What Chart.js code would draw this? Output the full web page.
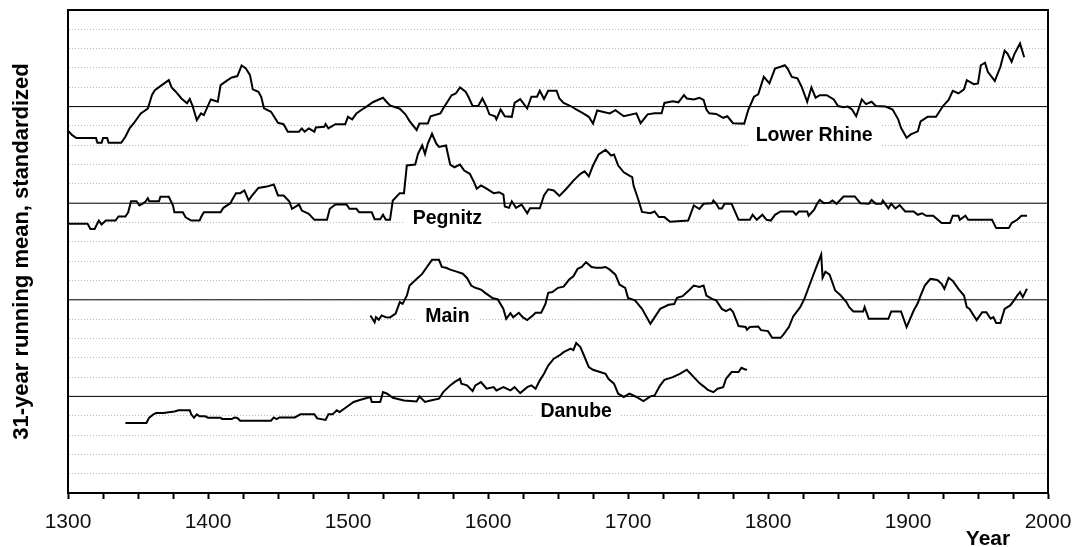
<!DOCTYPE html>
<html>
<head>
<meta charset="utf-8">
<script src="https://cdn.jsdelivr.net/npm/chart.js@4.4.0/dist/chart.umd.min.js"></script>
<style>
  html, body { margin: 0; padding: 0; background: #fff; }
  #wrap { width: 1075px; height: 547px; }
</style>
</head>
<body>
<div id="wrap"><canvas id="chart" width="1075" height="547"></canvas></div>
<script>
// 31-year running means, standardized; [year, value] in grid units around each river's own zero line
const lowerRhine = [
    [1300,-1.25],[1303,-1.48],[1306,-1.63],[1320,-1.63],[1321,-1.87],[1324,-1.87],[1325,-1.63],[1328,-1.63],
    [1329,-1.87],[1338,-1.87],[1341,-1.56],[1344,-1.12],[1347,-0.86],[1352,-0.35],[1357,-0.10],[1360,0.60],
    [1362,0.85],[1368,1.16],[1372,1.37],[1374,0.99],[1377,0.77],[1381,0.42],[1385,0.17],[1387,0.40],
    [1389,0.03],[1392,-0.70],[1395,-0.35],[1397,-0.44],[1402,0.37],[1407,0.25],[1409,1.11],[1414,1.37],
    [1417,1.51],[1421,1.58],[1424,2.13],[1427,1.98],[1430,1.63],[1432,0.89],[1436,0.77],[1438,0.51],
    [1440,-0.09],[1445,-0.27],[1450,-0.84],[1454,-0.91],[1457,-1.30],[1465,-1.30],[1467,-1.13],[1469,-1.30],
    [1472,-1.13],[1476,-1.30],[1477,-1.08],[1483,-1.04],[1484,-0.90],[1486,-1.13],[1491,-0.91],[1498,-0.91],
    [1500,-0.53],[1503,-0.66],[1506,-0.35],[1510,-0.15],[1513,-0.01],[1518,0.24],[1525,0.46],[1527,0.29],
    [1530,0.06],[1537,-0.11],[1541,-0.40],[1544,-0.75],[1549,-1.21],[1551,-0.88],[1557,-0.88],[1559,-0.50],
    [1566,-0.35],[1568,-0.10],[1574,0.59],[1577,0.68],[1580,0.99],[1584,0.77],[1586,0.51],[1589,0.03],
    [1593,0.03],[1596,0.42],[1599,-0.01],[1601,-0.40],[1605,-0.50],[1606,-0.66],[1609,-0.15],[1612,-0.50],
    [1617,-0.53],[1619,0.19],[1623,0.39],[1625,0.19],[1628,-0.10],[1631,0.51],[1635,0.51],[1637,0.82],
    [1640,0.39],[1643,0.82],[1649,0.82],[1651,0.42],[1654,0.19],[1659,0.03],[1663,-0.15],[1668,-0.35],
    [1672,-0.53],[1675,-0.88],[1678,-0.20],[1687,-0.35],[1691,-0.18],[1697,-0.50],[1706,-0.35],[1709,-0.86],
    [1714,-0.40],[1719,-0.35],[1724,-0.35],[1726,0.19],[1732,0.27],[1736,0.22],[1740,0.59],[1742,0.42],
    [1747,0.37],[1751,0.46],[1754,0.34],[1756,-0.15],[1758,-0.35],[1763,-0.38],[1768,-0.58],[1771,-0.50],
    [1775,-0.86],[1783,-0.88],[1786,-0.15],[1790,0.51],[1793,0.64],[1797,1.54],[1801,1.20],[1805,1.97],
    [1809,2.06],[1812,2.14],[1814,1.97],[1817,1.54],[1821,1.46],[1824,1.03],[1828,0.25],[1831,0.99],
    [1834,0.46],[1837,0.59],[1842,0.59],[1847,0.37],[1850,0.03],[1854,-0.03],[1857,0.00],[1860,-0.15],
    [1863,-0.50],[1867,0.37],[1870,0.13],[1874,0.25],[1877,0.03],[1884,0.00],[1889,-0.15],[1893,-0.66],
    [1895,-1.10],[1899,-1.61],[1902,-1.44],[1907,-1.28],[1909,-0.76],[1914,-0.53],[1920,-0.53],[1925,0.03],
    [1929,0.34],[1932,0.82],[1936,0.68],[1940,0.89],[1942,1.37],[1947,1.16],[1950,1.20],[1952,2.14],
    [1955,2.27],[1957,1.80],[1962,1.33],[1966,2.06],[1969,2.89],[1971,2.75],[1974,2.32],[1976,2.72],
    [1980,3.27],[1983,2.55]
];

const pegnitz = [
    [1300,-1.07],[1314,-1.07],[1316,-1.33],[1319,-1.33],[1322,-0.90],[1324,-1.10],[1327,-0.90],[1334,-0.90],
    [1336,-0.69],[1341,-0.69],[1343,-0.47],[1345,0.10],[1349,0.10],[1351,-0.12],[1355,0.05],[1357,0.26],
    [1358,0.10],[1365,0.10],[1366,0.33],[1372,0.33],[1375,-0.12],[1376,-0.47],[1382,-0.47],[1384,-0.73],
    [1388,-0.90],[1394,-0.90],[1395,-0.73],[1397,-0.47],[1409,-0.47],[1411,-0.24],[1416,0.00],[1417,0.14],
    [1420,0.52],[1423,0.52],[1426,0.66],[1429,0.14],[1431,0.35],[1436,0.79],[1442,0.86],[1447,0.97],
    [1450,0.40],[1454,0.40],[1458,0.10],[1460,-0.29],[1465,-0.07],[1467,-0.38],[1472,-0.55],[1476,-0.86],
    [1485,-0.86],[1487,-0.29],[1491,-0.07],[1499,-0.07],[1501,-0.29],[1506,-0.29],[1508,-0.47],[1517,-0.47],
    [1519,-0.83],[1523,-0.83],[1525,-0.60],[1527,-0.86],[1530,-0.86],[1532,0.14],[1537,0.52],[1540,0.52],
    [1542,1.95],[1548,2.00],[1550,2.56],[1553,2.99],[1555,2.55],[1557,3.09],[1560,3.59],[1563,3.09],
    [1565,2.91],[1570,2.99],[1573,2.00],[1576,1.86],[1580,2.00],[1583,1.69],[1587,1.52],[1590,1.09],
    [1592,0.75],[1595,0.92],[1599,0.75],[1604,0.52],[1608,0.57],[1611,0.45],[1612,-0.17],[1615,-0.24],
    [1617,0.10],[1620,-0.24],[1624,-0.07],[1628,-0.52],[1630,-0.26],[1637,-0.26],[1640,0.40],[1643,0.72],
    [1647,0.66],[1651,0.38],[1656,0.75],[1661,1.17],[1666,1.52],[1669,1.65],[1672,1.39],[1675,1.95],
    [1679,2.52],[1684,2.76],[1688,2.47],[1690,2.52],[1693,1.95],[1697,1.60],[1701,1.43],[1703,1.35],
    [1704,0.90],[1707,0.27],[1710,-0.45],[1716,-0.52],[1719,-0.43],[1722,-0.72],[1726,-0.72],[1730,-0.96],
    [1743,-0.90],[1747,-0.12],[1751,-0.30],[1754,-0.03],[1760,0.00],[1761,0.14],[1763,-0.03],[1765,-0.27],
    [1767,-0.27],[1769,-0.03],[1774,-0.03],[1779,-0.86],[1787,-0.86],[1789,-0.60],[1792,-0.86],[1796,-0.60],
    [1799,-0.86],[1802,-0.90],[1805,-0.60],[1809,-0.43],[1818,-0.43],[1820,-0.60],[1822,-0.43],[1828,-0.43],
    [1829,-0.65],[1833,-0.34],[1835,-0.03],[1837,0.17],[1840,0.00],[1844,0.03],[1846,0.14],[1849,-0.03],
    [1854,0.35],[1862,0.35],[1866,0.00],[1872,-0.03],[1874,0.17],[1877,-0.03],[1881,-0.03],[1882,0.14],
    [1886,-0.27],[1888,-0.03],[1891,-0.27],[1894,-0.10],[1898,-0.43],[1904,-0.43],[1907,-0.60],[1910,-0.52],
    [1913,-0.65],[1918,-0.65],[1924,-1.03],[1930,-1.03],[1932,-0.65],[1936,-0.65],[1937,-0.86],[1941,-0.65],
    [1943,-0.86],[1960,-0.86],[1963,-1.29],[1972,-1.29],[1974,-1.03],[1978,-0.86],[1981,-0.65],[1985,-0.65]
];

const main = [
    [1516,-0.81],[1519,-1.16],[1520,-0.90],[1522,-1.03],[1524,-0.81],[1527,-0.90],[1530,-0.91],[1534,-0.72],
    [1537,-0.12],[1539,-0.21],[1542,0.21],[1544,0.74],[1549,1.08],[1553,1.34],[1556,1.66],[1560,2.07],
    [1565,2.07],[1567,1.70],[1570,1.66],[1573,1.56],[1577,1.47],[1582,1.35],[1585,1.13],[1588,0.74],
    [1591,0.62],[1595,0.53],[1598,0.36],[1603,0.10],[1607,0.02],[1611,-0.47],[1613,-0.98],[1616,-0.69],
    [1618,-0.90],[1622,-0.67],[1625,-0.91],[1628,-1.05],[1632,-0.81],[1634,-0.67],[1638,-0.67],[1641,-0.22],
    [1643,0.36],[1646,0.40],[1650,0.62],[1654,0.68],[1658,1.05],[1661,1.22],[1664,1.60],[1667,1.70],
    [1670,1.95],[1674,1.70],[1677,1.66],[1681,1.66],[1684,1.70],[1687,1.56],[1691,1.30],[1694,0.78],
    [1698,0.62],[1700,0.10],[1705,-0.03],[1710,-0.47],[1716,-1.24],[1719,-0.91],[1723,-0.47],[1729,-0.26],
    [1733,-0.22],[1735,0.10],[1739,0.19],[1743,0.45],[1747,0.74],[1751,0.66],[1754,0.74],[1756,0.22],
    [1760,0.05],[1763,-0.03],[1767,-0.47],[1770,-0.59],[1773,-0.47],[1775,-0.62],[1779,-1.36],[1784,-1.41],
    [1785,-1.55],[1787,-1.41],[1793,-1.38],[1795,-1.57],[1800,-1.62],[1803,-1.97],[1809,-1.97],[1811,-1.80],
    [1815,-1.40],[1818,-0.86],[1823,-0.38],[1826,0.05],[1830,0.83],[1834,1.60],[1838,2.34],[1839,1.14],
    [1841,1.45],[1844,1.30],[1848,0.48],[1852,0.22],[1856,-0.12],[1858,-0.38],[1861,-0.60],[1868,-0.60],
    [1869,-0.38],[1872,-0.98],[1886,-0.98],[1888,-0.60],[1895,-0.60],[1899,-1.41],[1904,-0.57],[1907,-0.17],
    [1909,0.22],[1912,0.74],[1916,1.08],[1921,1.03],[1924,0.83],[1926,0.57],[1929,1.14],[1932,0.98],
    [1936,0.57],[1940,0.22],[1942,-0.38],[1944,-0.47],[1949,-1.05],[1953,-0.64],[1956,-0.64],[1959,-0.98],
    [1961,-0.90],[1963,-1.20],[1966,-1.20],[1969,-0.47],[1973,-0.29],[1976,0.00],[1978,0.22],[1980,0.40],
    [1982,0.14],[1985,0.57]
];

const danube = [
    [1341,-1.38],[1356,-1.38],[1358,-1.10],[1361,-0.93],[1363,-0.86],[1368,-0.86],[1376,-0.78],[1379,-0.72],
    [1387,-0.72],[1388,-0.93],[1390,-1.10],[1392,-0.93],[1394,-1.03],[1398,-1.03],[1400,-1.10],[1409,-1.10],
    [1410,-1.17],[1417,-1.17],[1419,-1.09],[1421,-1.12],[1423,-1.26],[1445,-1.26],[1447,-1.09],[1449,-1.17],
    [1451,-1.09],[1462,-1.09],[1466,-0.93],[1476,-0.93],[1478,-1.14],[1484,-1.22],[1486,-0.93],[1489,-0.93],
    [1492,-0.72],[1494,-0.81],[1499,-0.55],[1504,-0.29],[1509,-0.17],[1516,-0.03],[1517,-0.29],[1523,-0.29],
    [1525,0.22],[1528,0.14],[1532,-0.07],[1540,-0.21],[1549,-0.26],[1551,0.00],[1555,-0.29],[1559,-0.21],
    [1565,-0.12],[1568,0.22],[1573,0.57],[1576,0.74],[1580,0.91],[1581,0.66],[1585,0.57],[1589,0.28],
    [1591,0.57],[1595,0.74],[1599,0.40],[1604,0.48],[1606,0.31],[1611,0.48],[1616,0.31],[1619,0.48],
    [1623,0.17],[1628,0.48],[1631,0.57],[1634,0.40],[1637,0.83],[1640,1.17],[1643,1.60],[1647,1.95],
    [1651,2.12],[1654,2.29],[1659,2.47],[1661,2.40],[1663,2.76],[1666,2.55],[1669,2.04],[1672,1.52],
    [1675,1.38],[1680,1.26],[1684,1.17],[1686,0.91],[1690,0.66],[1693,0.14],[1697,-0.03],[1701,0.14],
    [1706,-0.03],[1711,-0.24],[1716,0.00],[1719,0.05],[1723,0.57],[1726,0.86],[1732,1.00],[1737,1.17],
    [1742,1.38],[1747,1.00],[1751,0.69],[1754,0.52],[1757,0.34],[1761,0.22],[1764,0.40],[1768,0.48],
    [1770,0.91],[1774,1.26],[1779,1.26],[1781,1.48],[1784,1.38],[1785,1.40]
];

const riverNames = ["Lower Rhine", "Pegnitz", "Main", "Danube"];
const riverSeries = [lowerRhine, pegnitz, main, danube];
const riverOffsets = [20, 15, 10, 5];          // each river stacked on its own zero line
const labelYears = [1833, 1571, 1571, 1663];
const labelLevels = [18.48, 14.18, 9.11, 4.19];

const yearMin = 1300;
const yearMax = 2000;
const levelMin = 0;
const levelMax = 25;
const yTitle = "31-year running mean, standardized";
const xTitle = "Year";

const FONT = "'Liberation Sans', Arial, Helvetica, sans-serif";

const datasets = [];
riverSeries.forEach((series, i) => {
    datasets.push({
        label: riverNames[i],
        data: series.map(p => ({ x: p[0], y: p[1] + riverOffsets[i] })),
        borderColor: "#000",
        borderWidth: 2,
        pointRadius: 0,
        tension: 0,
        order: 1
    });
});
riverOffsets.forEach((off, i) => {
    datasets.push({
        label: riverNames[i] + " zero",
        data: [{ x: yearMin, y: off }, { x: yearMax, y: off }],
        borderColor: "#000",
        borderWidth: 1,
        pointRadius: 0,
        order: 2
    });
});

const riverLabels = {
    id: "riverLabels",
    beforeDatasetsDraw(chart) {
        const { ctx, scales: { x, y } } = chart;
        ctx.save();
        ctx.font = "bold 19.5px " + FONT;
        ctx.textAlign = "center";
        ctx.textBaseline = "middle";
        riverNames.forEach((name, i) => {
            const px = x.getPixelForValue(labelYears[i]);
            const py = y.getPixelForValue(labelLevels[i]);
            const w = ctx.measureText(name).width + 16;
            ctx.fillStyle = "#fff";
            ctx.fillRect(px - w / 2, py - 11, w, 22);
            ctx.fillStyle = "#000";
            ctx.fillText(name, px, py);
        });
        ctx.restore();
    },
    afterDraw(chart) {
        const { ctx, chartArea } = chart;
        ctx.save();
        ctx.font = "bold 21px " + FONT;
        ctx.textAlign = "center";
        ctx.textBaseline = "alphabetic";
        ctx.fillStyle = "#000";
        ctx.fillText(xTitle, chartArea.right - 60, 545);
        ctx.restore();
    }
};

new Chart(document.getElementById("chart").getContext("2d"), {
    type: "line",
    data: { datasets: datasets },
    options: {
        responsive: false,
        animation: false,
        devicePixelRatio: 1,
        layout: { padding: { top: 10, right: 27, bottom: 0, left: 0 } },
        plugins: {
            legend: { display: false },
            tooltip: { enabled: false }
        },
        scales: {
            x: {
                type: "linear",
                position: "bottom",
                min: yearMin,
                max: yearMax,
                afterFit: s => {
                    s.height = 54;
                    s.paddingLeft = 0;
                    s.paddingRight = 0;
                },
                ticks: {
                    stepSize: 25,
                    autoSkip: false,
                    maxRotation: 0,
                    padding: 11,
                    color: "#111",
                    font: { family: FONT, size: 21 },
                    callback: v => (v % 100 === 0 ? String(v) : "")
                },
                grid: {
                    drawOnChartArea: false,
                    drawTicks: true,
                    tickLength: 6,
                    tickWidth: 2,
                    tickColor: "#000"
                },
                border: { display: true, color: "#000", width: 2 }
            },
            xTop: {
                type: "linear",
                axis: "x",
                position: "top",
                min: yearMin,
                max: yearMax,
                afterFit: s => { s.height = 0; },
                ticks: { display: false },
                grid: { display: false },
                border: { display: true, color: "#000", width: 2 }
            },
            y: {
                type: "linear",
                position: "left",
                min: levelMin,
                max: levelMax,
                afterFit: s => { s.width = 68; },
                ticks: { display: false, stepSize: 1 },
                grid: {
                    color: "#b8b8b8",
                    lineWidth: 1,
                    drawTicks: false
                },
                border: { display: true, color: "#000", width: 2, dash: [1, 2] },
                title: {
                    display: true,
                    text: yTitle,
                    color: "#000",
                    padding: { top: 9, bottom: 0 },
                    font: { family: FONT, size: 22, weight: "bold" }
                }
            },
            yRight: {
                type: "linear",
                axis: "y",
                position: "right",
                min: levelMin,
                max: levelMax,
                afterFit: s => { s.width = 0; },
                ticks: { display: false },
                grid: { display: false },
                border: { display: true, color: "#000", width: 2 }
            }
        }
    },
    plugins: [riverLabels]
});
</script>
</body>
</html>
